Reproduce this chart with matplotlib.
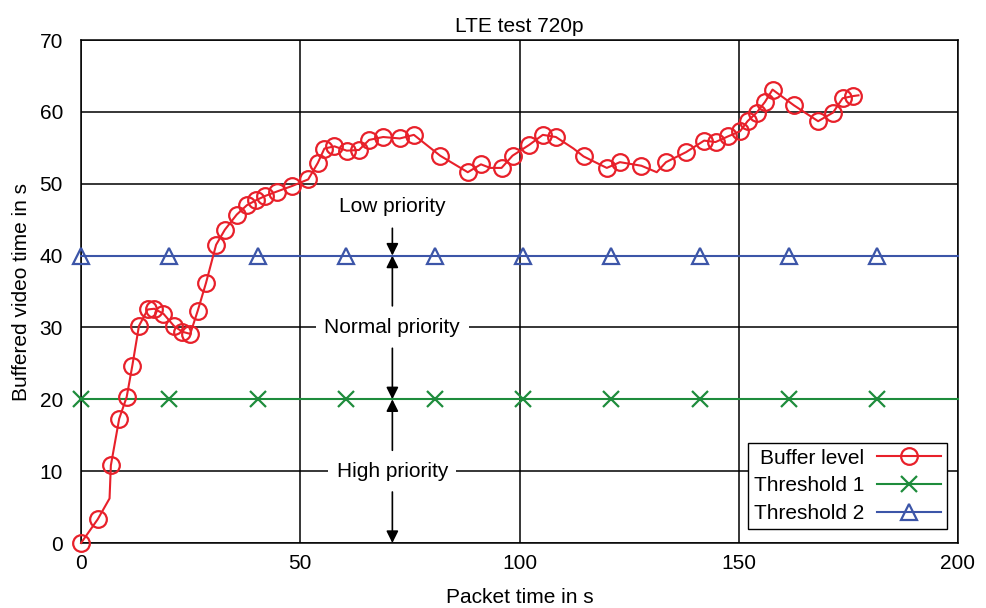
import matplotlib
matplotlib.use('Agg')
import matplotlib.pyplot as plt

plt.rcParams['font.family'] = ['Liberation Sans', 'DejaVu Sans']
plt.rcParams['font.size'] = 15

# buffer level (packet time in s, buffered video in s); marker flag per point
buf_t = [0, 3.8, 6.5, 6.8, 8.7, 10.4, 11.7, 13.2, 15.2, 16.7, 18.8, 21.2, 23.1, 24.9,
         26.6, 28.5, 30.8, 32.8, 35.5, 37.8, 39.9, 42.0, 44.6, 48.2, 51.8, 54.0, 55.5,
         57.8, 60.6, 63.4, 65.7, 68.9, 72.7, 75.9, 81.9, 88.2, 91.2, 93.3, 95.9, 98.4,
         102.2, 105.3, 108.3, 112.3, 114.6, 119.9, 122.9, 127.8, 131.3, 133.4, 138.0,
         142.1, 144.7, 147.6, 150.3, 152.0, 154.1, 156.0, 157.7, 162.6, 168.1, 171.5,
         173.7, 176.1, 177.3]
buf_v = [0, 3.3, 6.2, 10.8, 17.3, 20.3, 24.7, 30.2, 32.5, 32.6, 31.9, 30.2, 29.4, 29.1,
         32.3, 36.2, 41.5, 43.6, 45.7, 47.0, 47.7, 48.3, 48.9, 49.7, 50.6, 52.9, 54.9,
         55.2, 54.6, 54.7, 56.1, 56.5, 56.3, 56.8, 53.9, 51.6, 52.7, 52.2, 52.2, 53.9,
         55.4, 56.8, 56.5, 54.9, 53.8, 52.2, 53.0, 52.5, 51.6, 53.0, 54.4,
         56.0, 55.8, 56.6, 57.3, 58.7, 59.9, 61.4, 63.1, 60.9, 58.7, 59.9,
         61.9, 62.2, 62.3]
no_marker = [2, 37, 43, 48, 64]
buf_mark = [i not in no_marker for i in range(len(buf_t))]

# threshold lines
thr_t = [0, 20.1, 40.4, 60.4, 80.7, 100.8, 120.9, 141.2, 161.5, 181.5, 200]
thr1 = 20
thr2 = 40

red = '#e8202a'
green = '#1e8c3c'
blue = '#3c55a8'

fig = plt.figure(figsize=(9.86, 6.08), dpi=100)
ax = fig.add_axes([0.0822, 0.1069, 0.8894, 0.8273])

ax.plot(buf_t, buf_v, color=red, lw=1.5, marker='o', ms=12, mfc='none', mew=1.6,
        markevery=buf_mark, label='Buffer level', zorder=5, clip_on=False)
ax.plot(thr_t, [thr1] * len(thr_t), color=green, lw=1.5, marker='x', ms=11, mew=1.6,
        markevery=list(range(len(thr_t) - 1)), label='Threshold 1', zorder=4, clip_on=False)
ax.plot(thr_t, [thr2] * len(thr_t), color=blue, lw=1.5, marker='^', ms=12, mfc='none',
        mew=1.6, markevery=list(range(len(thr_t) - 1)), label='Threshold 2', zorder=4,
        clip_on=False)

# priority labels and arrows
xa = 71
box = dict(facecolor='white', edgecolor='none', pad=6)
ax.text(xa, 46.8, 'Low priority', ha='center', va='center', bbox=box, zorder=3)
ax.text(xa, 30, 'Normal priority', ha='center', va='center', bbox=box, zorder=3)
ax.text(xa, 10, 'High priority', ha='center', va='center', bbox=box, zorder=3)
arr = dict(arrowstyle='-|>', color='black', lw=1.2, mutation_scale=18,
           shrinkA=0, shrinkB=0)
for y0, y1 in [(43.8, 40), (33.0, 40), (27.1, 20), (12.9, 20), (7.1, 0)]:
    ax.annotate('', xy=(xa, y1), xytext=(xa, y0), arrowprops=arr, zorder=3)

ax.set_xlim(0, 200)
ax.set_ylim(0, 70)
ax.set_xticks([0, 50, 100, 150, 200])
ax.set_yticks(range(0, 71, 10))
ax.grid(True, color='black', lw=1.1)
ax.set_axisbelow(True)
ax.tick_params(axis='x', length=0, pad=8)
ax.tick_params(axis='y', length=0, pad=13)
for s in ax.spines.values():
    s.set_linewidth(1.1)

ax.set_title('LTE test 720p', fontsize=15, pad=6)
ax.set_xlabel('Packet time in s', labelpad=11)
ax.set_ylabel('Buffered video time in s', labelpad=6)

leg = ax.legend(loc='lower right', bbox_to_anchor=(0.9875, 0.028), markerfirst=False,
                numpoints=1, fancybox=False, edgecolor='black', framealpha=1,
                handlelength=3.1, labelspacing=0.42, borderpad=0.28, handletextpad=0.6,
                borderaxespad=0)
leg.get_frame().set_linewidth(1.0)

fig.savefig('out.png', dpi=100)
